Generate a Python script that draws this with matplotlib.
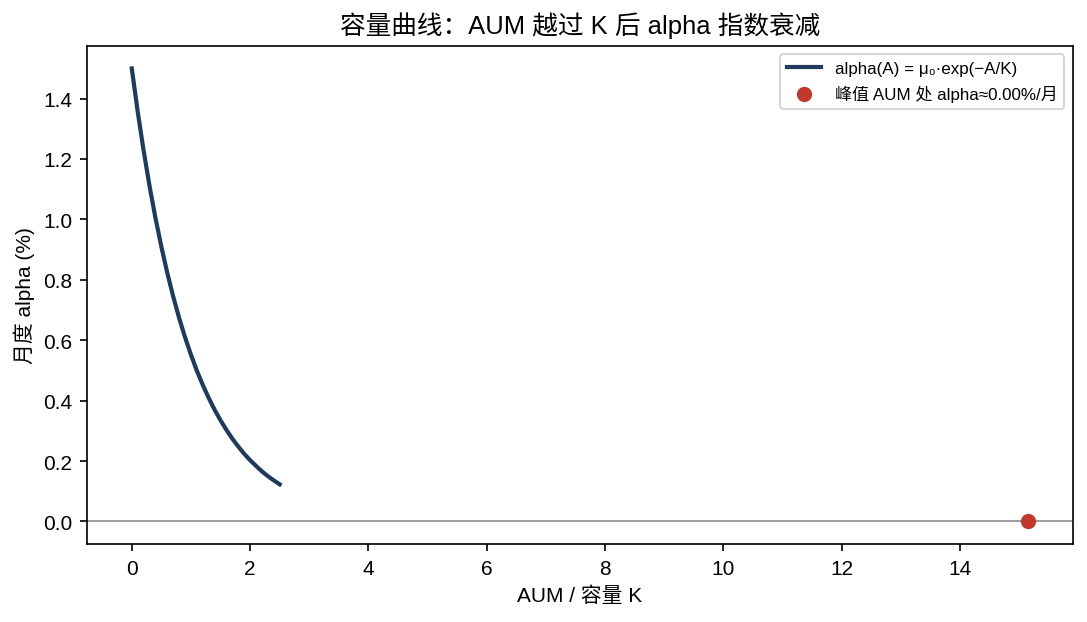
import numpy as np
import matplotlib
matplotlib.use('Agg')
import matplotlib.pyplot as plt

plt.rcParams['font.family'] = ['Liberation Sans', 'Noto Sans CJK SC', 'DejaVu Sans']
plt.rcParams['axes.unicode_minus'] = False

# AUM / K 与月度 alpha (%)
aum = [0.0, 0.1, 0.2, 0.3, 0.4, 0.5, 0.6, 0.7, 0.8, 0.9, 1.0, 1.1, 1.2,
       1.3, 1.4, 1.5, 1.6, 1.7, 1.8, 1.9, 2.0, 2.1, 2.2, 2.3, 2.4, 2.5]
alpha = [1.500, 1.357, 1.228, 1.111, 1.005, 0.910, 0.823, 0.745, 0.674,
         0.610, 0.552, 0.499, 0.452, 0.409, 0.370, 0.335, 0.303, 0.274,
         0.248, 0.224, 0.203, 0.184, 0.166, 0.150, 0.136, 0.123]
peak_aum = [15.15]
peak_alpha = [0.0]

fig, ax = plt.subplots(figsize=(7.247, 4.153), dpi=150)
fig.subplots_adjust(left=0.080, right=0.987, top=0.925, bottom=0.125)

ax.plot(aum, alpha, color='#1f3a5a', lw=2, label='alpha(A) = μ₀·exp(−A/K)')
ax.axhline(0, color='#999999', lw=0.9)
ax.scatter(peak_aum, peak_alpha, s=40, color='#c0392b', zorder=3,
           label='峰值 AUM 处 alpha≈0.00%/月')

ax.set_title('容量曲线：AUM 越过 K 后 alpha 指数衰减', fontsize=12.3)
ax.set_xlabel('AUM / 容量 K', fontsize=10)
ax.set_ylabel('月度 alpha (%)', fontsize=10)
ax.tick_params(labelsize=10)
ax.legend(loc='upper right', fontsize=8.2)

fig.savefig('out.png', dpi=150)
